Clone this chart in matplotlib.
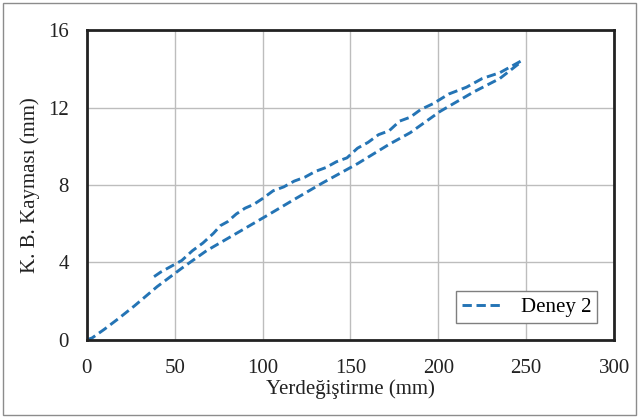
import matplotlib.pyplot as plt
from matplotlib.patches import Rectangle

plt.rcParams['font.family'] = ['Liberation Serif', 'DejaVu Serif']

# loading branch (smooth, from origin up to the peak)
x_load = [0, 3, 10, 18, 27, 40, 54, 68, 87, 104, 117, 134, 154, 172, 184, 201, 220, 235, 247]
y_load = [0, 0.1, 0.55, 1.1, 1.75, 2.75, 3.7, 4.6, 5.6, 6.5, 7.2, 8.1, 9.1, 10.1, 10.7, 11.8, 12.8, 13.5, 14.35]

# unloading branch (wavy, from the peak back down)
x_unload = [247, 243, 235, 225, 216, 206, 197, 190, 184, 178, 172, 166, 160, 154, 148, 142, 136,
            130, 124, 118, 112, 106, 100, 95, 90, 85, 80, 76, 72, 66, 60, 54, 48, 42, 38]
y_unload = [14.4, 14.2, 13.8, 13.5, 13.05, 12.7, 12.2, 11.9, 11.5, 11.3, 10.8, 10.6, 10.2, 9.9, 9.4, 9.2, 8.9,
            8.7, 8.4, 8.2, 7.9, 7.7, 7.3, 7.0, 6.8, 6.5, 6.1, 5.9, 5.5, 5.0, 4.6, 4.1, 3.8, 3.5, 3.25]

x_all = x_load + x_unload
y_all = y_load + y_unload

fig = plt.figure(figsize=(6.39, 4.18), dpi=100)
ax = fig.add_axes([0.136, 0.187, 0.825, 0.741])

ax.plot(x_all, y_all, color='#2474b5', linestyle=(0, (3.2, 1.6)), linewidth=2.1, label='Deney 2')

ax.set_xlim(0, 300)
ax.set_ylim(0, 16)
ax.set_xticks(range(0, 301, 50))
ax.set_yticks(range(0, 17, 4))
ax.grid(True, color='#bdbdbd', linewidth=1.0)
ax.set_axisbelow(True)
ax.tick_params(axis='x', length=0, labelsize=15, pad=14, colors='#222222')
ax.tick_params(axis='y', length=0, labelsize=15, pad=13, colors='#222222')
for s in ax.spines.values():
    s.set_linewidth(2.0)
    s.set_color('#222222')

ax.set_xlabel('Yerdeğiştirme (mm)', fontsize=15, labelpad=1, color='#222222')
ax.set_ylabel('K. B. Kayması (mm)', fontsize=15, labelpad=6, color='#222222')

leg = ax.legend(loc='lower right', fontsize=15, fancybox=False, framealpha=1,
                edgecolor='#7f7f7f', handlelength=2.0, borderpad=0.3,
                bbox_to_anchor=(0.988, 0.02))
leg.get_frame().set_linewidth(1.0)

# outer frame around the whole figure
fig.patches.append(Rectangle((0.004, 0.006), 0.992, 0.988, transform=fig.transFigure,
                             fill=False, edgecolor='#8c8c8c', linewidth=1.0))

fig.savefig('out.png', dpi=100)
